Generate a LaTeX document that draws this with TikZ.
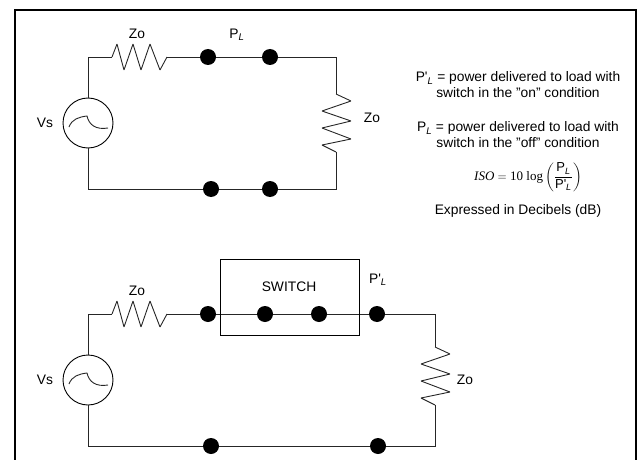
\documentclass[tikz,border=0pt]{standalone}
\usepackage{amsmath}
\usepackage{fontspec}
\setmainfont{Liberation Sans}
\newfontfamily\eqfont{Liberation Serif}
\usetikzlibrary{positioning}
\newcommand{\PLoff}{P\textsubscript{\textit{L}}}
\newcommand{\PLon}{P\textquotesingle\textsubscript{\textit{L}}}
\newcommand{\zighoriz}{-- ++(5,-13) -- ++(7,26) -- ++(9,-26) -- ++(8,26) -- ++(9,-26) -- ++(10,26) -- (\zigend)}
\newcommand{\zigvert}{-- ++(15,7) -- ++(-29,10) -- ++(29,10) -- ++(-29,7) -- ++(29,11) -- ++(-29,6) -- (\zigend)}
\tikzset{
  wire/.style={line width=0.9pt,black!85},
  term/.style={circle,fill=black,inner sep=0pt,minimum size=16pt},
  source/.style={circle,draw,line width=0.9pt,inner sep=0pt,minimum size=50pt},
  lbl/.style={inner sep=0pt,font=\fontsize{13.8}{16}\selectfont},
  note/.style={lbl,align=center}
}
\begin{document}
\begin{tikzpicture}[x=1pt,y=-1pt,on grid]
    \useasboundingbox (0,0) rectangle (637,460);
    \draw[line width=2pt] (15,462) -- (15,10) -- (636,10) -- (636,462);
    % upper circuit
    \node[source] (vs_1) at (88,123) {};
    \node[term] (a_1) at (208,57) {};
    \node[term] (b_1) [right=62pt of a_1] {};
    \node[term] (d_1) at (211,189) {};
    \node[term] (c_1) [right=59pt of d_1] {};
    \coordinate (ra_1) at (112,57);
    \coordinate (rb_1) at (167,57);
    \coordinate (sa_1) at (336,94);
    \coordinate (sb_1) at (336,152);
    \draw[wire] (vs_1) |- (ra_1);
    \draw[wire] (rb_1) -- (a_1);
    \draw[wire] (a_1) -- (b_1);
    \draw[wire] (b_1) -| (sa_1);
    \draw[wire] (sb_1) |- (c_1);
    \draw[wire] (c_1) -- (d_1);
    \draw[wire] (d_1) -| (vs_1);
    \def\zigend{rb_1}
    \draw[wire,line join=bevel] (ra_1) \zighoriz;
    \def\zigend{sb_1}
    \draw[wire,line join=bevel] (sa_1) \zigvert;
    \draw[wire] (69,127) .. controls (72,119) and (79,117) .. (87,116) .. controls (89,125) and (96,130) .. (108,128);
    \node[lbl] (vslabel_1) at (45,123) {Vs};
    \node[lbl] (zo_1) at (137,34) {Zo};
    \node[lbl] (pl_1) at (237,35) {\PLoff};
    \node[lbl] (zoload_1) at (372,118) {Zo};
    % lower circuit
    \node[source] (vs_2) at (88,380) {};
    \node[term] (a_2) at (208,314) {};
    \node[term] (b_2) [right=57pt of a_2] {};
    \node[term] (c_2) [right=54pt of b_2] {};
    \node[term] (e_2) [right=58pt of c_2] {};
    \node[term] (d_2) at (211,446) {};
    \node[term] (f_2) [right=167pt of d_2] {};
    \coordinate (ra_2) at (112,314);
    \coordinate (rb_2) at (167,314);
    \coordinate (sa_2) at (435,347);
    \coordinate (sb_2) at (435,405);
    \draw[wire] (vs_2) |- (ra_2);
    \draw[wire] (rb_2) -- (a_2);
    \draw[wire] (a_2) -- (b_2);
    \draw[wire] (b_2) -- (c_2);
    \draw[wire] (c_2) -- (e_2);
    \draw[wire] (e_2) -| (sa_2);
    \draw[wire] (sb_2) |- (f_2);
    \draw[wire] (f_2) -- (d_2);
    \draw[wire] (d_2) -| (vs_2);
    \def\zigend{rb_2}
    \draw[wire,line join=bevel] (ra_2) \zighoriz;
    \def\zigend{sb_2}
    \draw[wire,line join=bevel] (sa_2) \zigvert;
    \draw[wire] (69,384) .. controls (72,376) and (79,374) .. (87,373) .. controls (89,382) and (96,387) .. (108,385);
    \node[draw,line width=0.9pt,minimum width=139.5pt,minimum height=76pt] (switch) at (289.75,297) {};
    \node[lbl] (switchlabel) at (289,287) {SWITCH};
    \node[lbl] (vslabel_2) at (45,380) {Vs};
    \node[lbl] (zo_2) at (137,291) {Zo};
    \node[lbl] (pl_2) at (378,280) {\PLon};
    \node[lbl] (zoload_2) at (465,380) {Zo};
    % notes
    \node[note] (noteon) at (518,85) {\PLon{} = power delivered to load with\\switch in the "on" condition};
    \node[note] (noteoff) at (518,135) {\PLoff{} = power delivered to load with\\switch in the "off" condition};
    \node[lbl,font=\fontsize{13}{15}\selectfont] (iso) at (528,177) {$\mbox{\eqfont\itshape ISO}=\mbox{\eqfont 10 log}\left(\dfrac{\mbox{\PLoff}}{\mbox{\PLon}}\right)$};
    \node[lbl] (decibels) at (518,211) {Expressed in Decibels (dB)};
\end{tikzpicture}
\end{document}
